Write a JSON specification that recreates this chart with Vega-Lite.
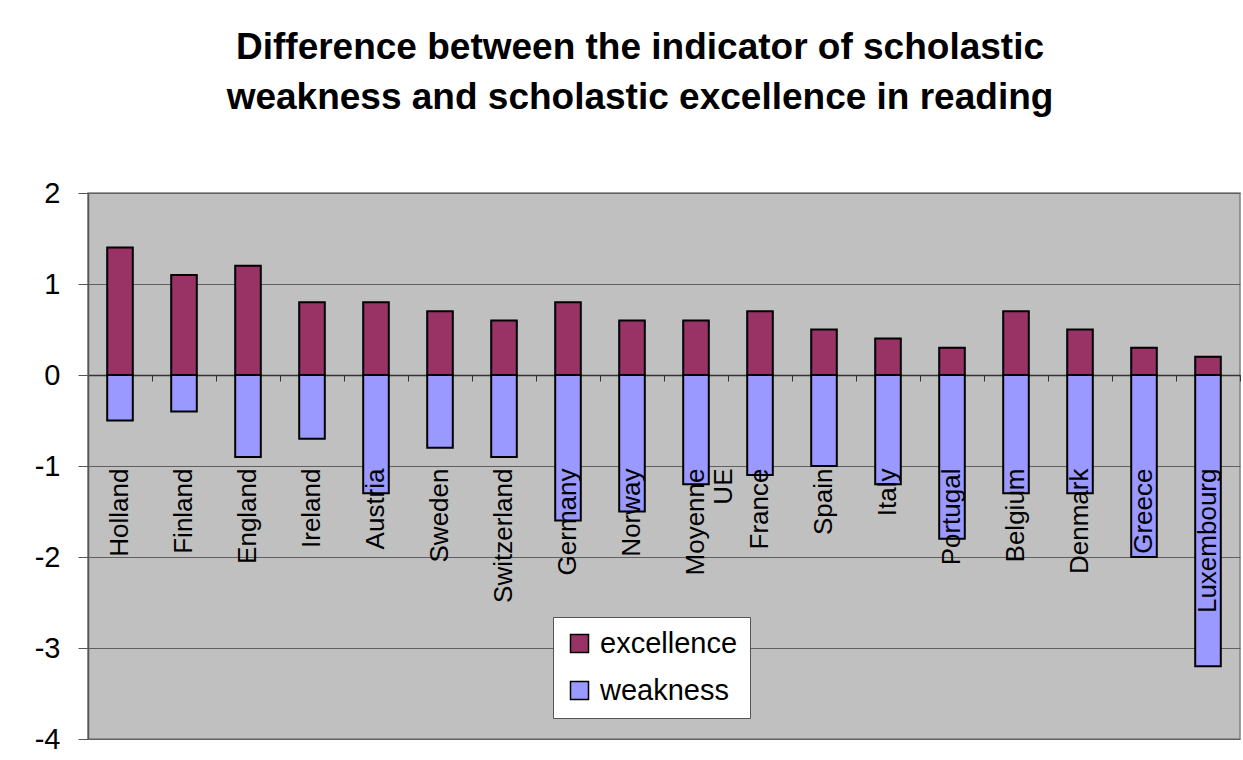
{
  "$schema": "https://vega.github.io/schema/vega-lite/v6.json",
  "width": 1152,
  "height": 546,
  "autosize": "none",
  "padding": {"left": 88, "top": 193, "right": 3, "bottom": 21},
  "background": "white",
  "title": {
    "text": ["Difference between the indicator of scholastic", "weakness and scholastic excellence in reading"],
    "font": "Liberation Sans",
    "fontSize": 37,
    "fontWeight": "bold",
    "color": "black",
    "anchor": "middle",
    "dx": -24,
    "offset": 62,
    "lineHeight": 50
  },
  "config": {
    "view": {"fill": "#C0C0C0", "stroke": "#808080", "strokeWidth": 1.5},
    "font": "Liberation Sans"
  },
  "data": {
    "values": [
      {"country": "Holland", "series": "excellence", "value": 1.4},
      {"country": "Holland", "series": "weakness", "value": -0.5},
      {"country": "Finland", "series": "excellence", "value": 1.1},
      {"country": "Finland", "series": "weakness", "value": -0.4},
      {"country": "England", "series": "excellence", "value": 1.2},
      {"country": "England", "series": "weakness", "value": -0.9},
      {"country": "Ireland", "series": "excellence", "value": 0.8},
      {"country": "Ireland", "series": "weakness", "value": -0.7},
      {"country": "Austria", "series": "excellence", "value": 0.8},
      {"country": "Austria", "series": "weakness", "value": -1.3},
      {"country": "Sweden", "series": "excellence", "value": 0.7},
      {"country": "Sweden", "series": "weakness", "value": -0.8},
      {"country": "Switzerland", "series": "excellence", "value": 0.6},
      {"country": "Switzerland", "series": "weakness", "value": -0.9},
      {"country": "Germany", "series": "excellence", "value": 0.8},
      {"country": "Germany", "series": "weakness", "value": -1.6},
      {"country": "Norway", "series": "excellence", "value": 0.6},
      {"country": "Norway", "series": "weakness", "value": -1.5},
      {"country": "Moyenne UE", "series": "excellence", "value": 0.6},
      {"country": "Moyenne UE", "series": "weakness", "value": -1.2},
      {"country": "France", "series": "excellence", "value": 0.7},
      {"country": "France", "series": "weakness", "value": -1.1},
      {"country": "Spain", "series": "excellence", "value": 0.5},
      {"country": "Spain", "series": "weakness", "value": -1.0},
      {"country": "Italy", "series": "excellence", "value": 0.4},
      {"country": "Italy", "series": "weakness", "value": -1.2},
      {"country": "Portugal", "series": "excellence", "value": 0.3},
      {"country": "Portugal", "series": "weakness", "value": -1.8},
      {"country": "Belgium", "series": "excellence", "value": 0.7},
      {"country": "Belgium", "series": "weakness", "value": -1.3},
      {"country": "Denmark", "series": "excellence", "value": 0.5},
      {"country": "Denmark", "series": "weakness", "value": -1.3},
      {"country": "Greece", "series": "excellence", "value": 0.3},
      {"country": "Greece", "series": "weakness", "value": -2.0},
      {"country": "Luxembourg", "series": "excellence", "value": 0.2},
      {"country": "Luxembourg", "series": "weakness", "value": -3.2}
    ]
  },
  "resolve": {"axis": {"x": "independent"}},
  "layer": [
    {
      "mark": {"type": "bar", "stroke": "black", "strokeWidth": 2},
      "encoding": {
        "x": {
          "field": "country",
          "type": "nominal",
          "sort": null,
          "scale": {"paddingInner": 0.6, "paddingOuter": 0.3},
          "axis": {
            "title": null,
            "orient": "bottom",
            "offset": -271,
            "zindex": 2,
            "domain": false,
            "ticks": false,
            "labelAngle": -90,
            "labelFontSize": 26,
            "labelColor": "black",
            "labelPadding": 0,
            "labelLimit": 0,
            "labelExpr": "datum.label == 'Moyenne UE' ? ['Moyenne', 'UE'] : datum.label"
          }
        },
        "y": {
          "field": "value",
          "type": "quantitative",
          "stack": true,
          "scale": {"domain": [-4, 2], "nice": false},
          "axis": {
            "title": null,
            "values": [-4, -3, -2, -1, 0, 1, 2],
            "labelExpr": "toString(datum.value)",
            "labelFontSize": 29,
            "labelColor": "black",
            "labelPadding": 18,
            "tickSize": 10,
            "tickColor": "#555555",
            "domainColor": "#555555",
            "domainWidth": 1.5,
            "grid": true,
            "gridColor": "#606060",
            "gridWidth": 1
          }
        },
        "color": {
          "field": "series",
          "type": "nominal",
          "scale": {"domain": ["excellence", "weakness"], "range": ["#993366", "#9999FF"]},
          "legend": {
            "title": null,
            "orient": "none",
            "legendX": 465,
            "legendY": 424,
            "fillColor": "white",
            "strokeColor": "#555555",
            "padding": 12,
            "symbolType": "square",
            "symbolSize": 324,
            "symbolStrokeColor": "black",
            "symbolStrokeWidth": 1.5,
            "symbolOpacity": 1,
            "labelFontSize": 29,
            "labelColor": "black",
            "labelOffset": 6,
            "rowPadding": 17
          }
        },
        "order": {"field": "series", "sort": "ascending"}
      }
    },
    {
      "mark": {"type": "rule", "opacity": 0},
      "encoding": {
        "x": {
          "field": "country",
          "type": "nominal",
          "sort": null,
          "axis": {
            "title": null,
            "orient": "top",
            "offset": -182,
            "labels": false,
            "grid": false,
            "domainColor": "#333333",
            "domainWidth": 1.5,
            "tickColor": "#333333",
            "tickSize": -6,
            "bandPosition": 1.75
          }
        }
      }
    }
  ]
}
